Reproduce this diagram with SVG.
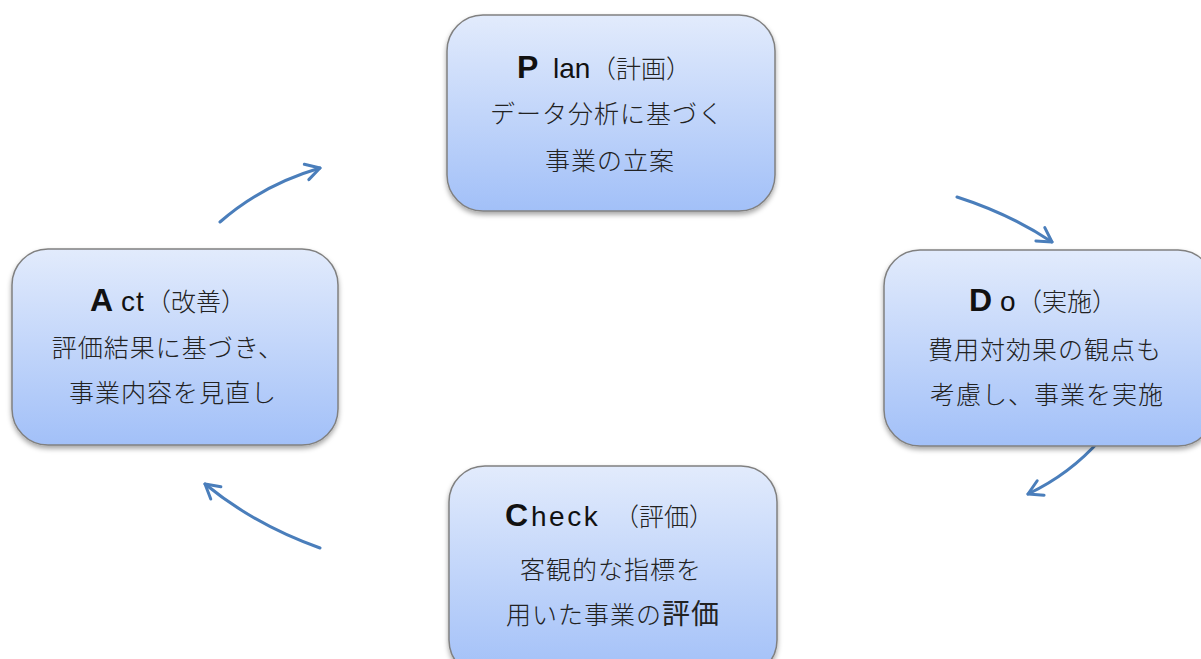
<svg xmlns="http://www.w3.org/2000/svg" width="1201" height="659" viewBox="0 0 1201 659">
<defs>
<linearGradient id="g" x1="0" y1="0" x2="0" y2="1">
<stop offset="0" stop-color="#e2ebfc"/>
<stop offset="1" stop-color="#a2c0f8"/>
</linearGradient>
<filter id="sh" x="-10%" y="-10%" width="120%" height="130%">
<feDropShadow dx="0" dy="3" stdDeviation="2.5" flood-color="#000" flood-opacity="0.35"/>
</filter>
<marker id="ah" viewBox="0 0 20 20" refX="17" refY="10" markerWidth="20" markerHeight="20" markerUnits="userSpaceOnUse" orient="auto">
<path d="M3,2 L17,10 L3,18" fill="none" stroke="#4a7ebb" stroke-width="3" stroke-linecap="round" stroke-linejoin="round"/>
</marker>
</defs>
<style>
.box{fill:url(#g);stroke:#808080;stroke-width:1.5;filter:url(#sh)}
.t{font-family:"Noto Sans CJK JP",sans-serif;font-size:25px;fill:#222;text-anchor:middle;font-weight:300;letter-spacing:1px}
.ti{font-family:"Noto Sans CJK JP",sans-serif;font-size:25px;fill:#222;font-weight:300}
.h{font-family:"Liberation Sans","Noto Sans CJK JP",sans-serif;font-size:28px;fill:#111;font-weight:normal}
.b{font-weight:bold;font-size:32px}
.c{stroke:#4a7ebb;stroke-width:3;fill:none;stroke-linecap:round;marker-end:url(#ah)}
</style>
<g id="connectors">
<path class="c" d="M220,222 Q262,185 320,168"/>
<path class="c" d="M957,197 Q1010,214 1052,242"/>
<path class="c" d="M1100,440 Q1070,474 1028,494"/>
<path class="c" d="M320,548 Q255,525 205,484"/>
</g>
<g id="plan">
<rect class="box" x="447" y="15" width="328" height="196" rx="36"/>
<text class="ti" y="78"><tspan class="h b" x="517">P</tspan><tspan class="h" x="553">lan</tspan><tspan x="591">（計画）</tspan></text>
<text class="t" x="607" y="123">データ分析に基づく</text>
<text class="t" x="610" y="170">事業の立案</text>
</g>
<g id="do">
<rect class="box" x="884" y="250" width="330" height="196" rx="36"/>
<text class="ti" y="311"><tspan class="h b" x="969">D</tspan><tspan class="h" x="1000">o</tspan><tspan x="1017">（実施）</tspan></text>
<text class="t" x="1045" y="359">費用対効果の観点も</text>
<text class="t" x="1047" y="404">考慮し、事業を実施</text>
</g>
<g id="check">
<rect class="box" x="449" y="466" width="328" height="210" rx="36"/>
<text class="ti" y="526"><tspan class="h b" x="505" font-size="34">C</tspan><tspan class="h" x="531" font-size="34" letter-spacing="2.5">heck</tspan><tspan x="614">（評価）</tspan></text>
<text class="t" x="611" y="579">客観的な指標を</text>
<text class="t" x="613" y="624">用いた事業の<tspan font-size="28" font-weight="400">評価</tspan></text>
</g>
<g id="act">
<rect class="box" x="12" y="249" width="326" height="196" rx="36"/>
<text class="ti" y="311"><tspan class="h b" x="90">A</tspan><tspan class="h" x="121" letter-spacing="1">ct</tspan><tspan x="146">（改善）</tspan></text>
<text class="t" x="168" y="357">評価結果に基づき、</text>
<text class="t" x="173" y="402">事業内容を見直し</text>
</g>
</svg>
